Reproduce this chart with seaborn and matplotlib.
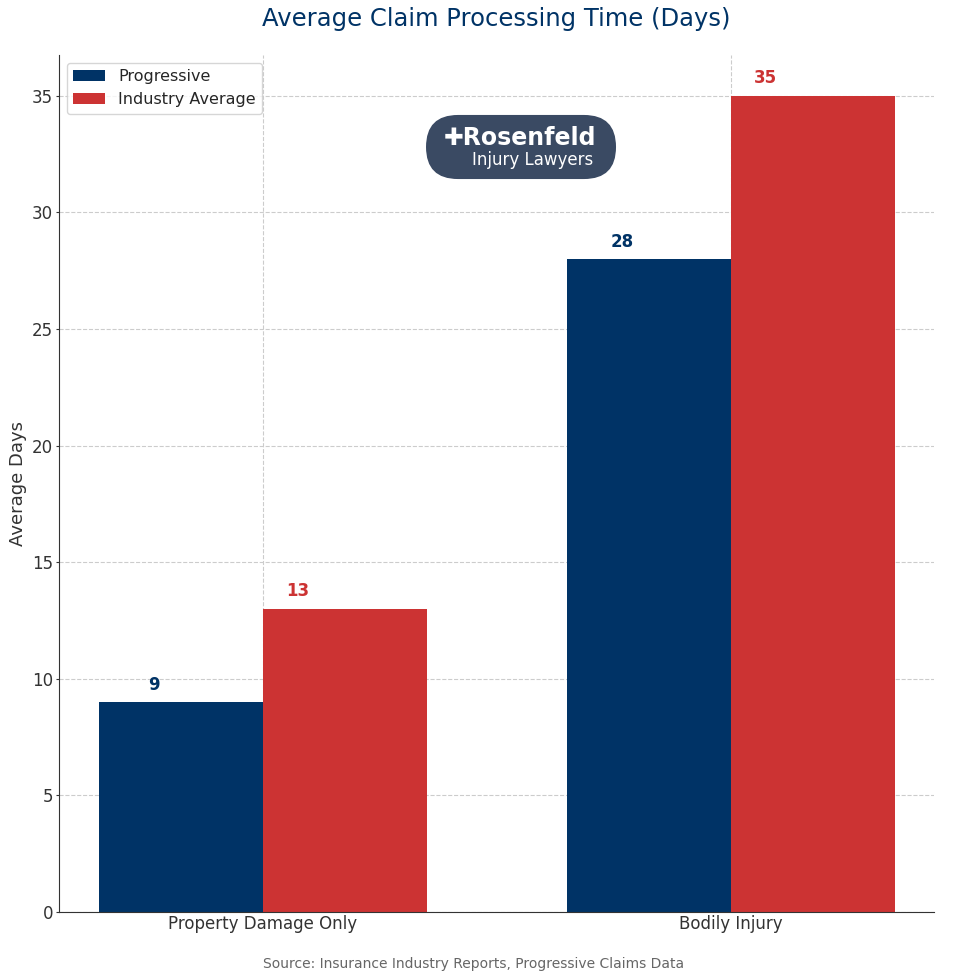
import pandas as pd
import seaborn as sns
import matplotlib.pyplot as plt
from matplotlib.patches import FancyBboxPatch

# данные
categories = ["Property Damage Only", "Bodily Injury"]
progressive = [9, 28]
industry = [13, 35]
series = ["Progressive", "Industry Average"]
colors = {"Progressive": "#003366", "Industry Average": "#CC3333"}

df = pd.DataFrame({
    "category": categories * 2,
    "days": progressive + industry,
    "series": [series[0]] * 2 + [series[1]] * 2,
})

sns.set_style("white")
plt.rcParams["font.family"] = ["DejaVu Sans"]

fig = plt.figure(figsize=(9.8, 9.8), dpi=100)
ax = fig.add_axes([0.060, 0.0694, 0.893, 0.8745])

sns.barplot(data=df, x="category", y="days", hue="series", palette=colors,
            width=0.7, ax=ax, saturation=1, legend=True, linewidth=0, edgecolor="none")

ax.set_xlim(-0.436, 1.434)
ax.set_ylim(0, 36.75)
ax.grid(True, linestyle="--", color="#cccccc", linewidth=0.8)
ax.set_axisbelow(True)
for s in ["top", "right"]:
    ax.spines[s].set_visible(False)
for s in ["left", "bottom"]:
    ax.spines[s].set_color("#333333")

# подписи значений (сдвиг влево как в оригинале)
shift = {"Progressive": -0.058, "Industry Average": -0.101}
for cont, name in zip(ax.containers, series):
    for bar in cont:
        h = bar.get_height()
        ax.annotate(f"{h:.0f}", (bar.get_x() + bar.get_width() / 2 + shift[name], h),
                    xytext=(0, 6), textcoords="offset points", ha="center", va="bottom",
                    fontsize=12, fontweight="bold", color=colors[name])

ax.set_xlabel("")
ax.set_ylabel("Average Days", fontsize=13, color="#333333", labelpad=4)
ax.tick_params(axis="x", labelsize=12, colors="#333333", pad=2, length=0)
ax.tick_params(axis="y", labelsize=12, colors="#333333", pad=1.5, length=2.5, left=True, color="#333333")
ax.set_title("Average Claim Processing Time (Days)", fontsize=17.5, color="#003366", pad=21)
ax.legend(title=None, loc="upper left", fontsize=11.5, frameon=True)

# логотип
logo = FancyBboxPatch((0.4347, 0.8173), 0.1939, 0.0654, transform=fig.transFigure,
                      boxstyle="round,pad=0,rounding_size=0.0327", fc="#3a4a63", ec="none")
fig.patches.append(logo)
fig.text(0.531, 0.859, "\u271aRosenfeld", ha="center", va="center", fontsize=17,
         fontweight="bold", color="white")
fig.text(0.543, 0.837, "Injury Lawyers", ha="center", va="center", fontsize=12, color="white")

fig.text(0.483, 0.016, "Source: Insurance Industry Reports, Progressive Claims Data",
         ha="center", va="center", fontsize=10, color="#666666")

fig.savefig("out.png", dpi=100)
